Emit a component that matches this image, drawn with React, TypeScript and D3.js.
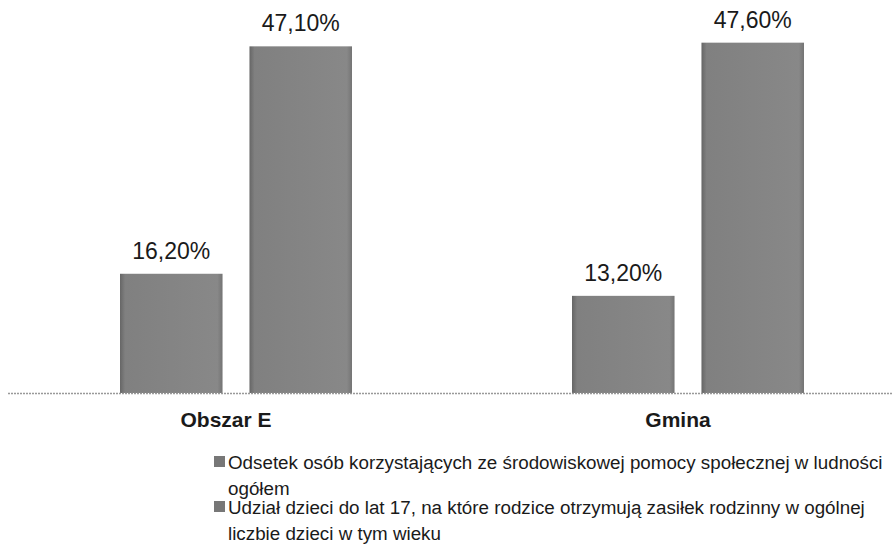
import React from "react";
import * as d3 from "d3";

const categories = ["Obszar E", "Gmina"];
const seriesNames = [
  "Odsetek osób korzystających ze środowiskowej pomocy społecznej w ludności ogółem",
  "Udział dzieci do lat 17, na które rodzice otrzymują zasiłek rodzinny w ogólnej liczbie dzieci w tym wieku",
];
const seriesA = [16.2, 13.2];
const seriesB = [47.1, 47.6];
const legendLines = [
  ["Odsetek osób korzystających ze środowiskowej pomocy społecznej w ludności", "ogółem"],
  ["Udział dzieci do lat 17, na które rodzice otrzymują zasiłek rodzinny w ogólnej", "liczbie dzieci w tym wieku"],
];

const W = 895;
const H = 558;
const baseY = 393;

export default function App() {
  const x0 = d3.scaleBand<string>().domain(categories).range([10, 914]).padding(0);
  const x1 = d3.scaleBand<number>().domain([0, 1]).range([-116, 116]).paddingInner(0.208);
  const y = d3.scaleLinear().domain([0, 50]).range([baseY, baseY - 368]);
  const series = [seriesA, seriesB];
  const fmt = (v: number) => v.toFixed(2).replace(".", ",") + "%";
  const font = "'Liberation Sans', Arial, sans-serif";
  const legendY = [469, 514];
  const lineH = 26;

  return (
    <svg width={W} height={H} style={{ position: "absolute", left: 0, top: 0, background: "#fff" }} fontFamily={font}>
      <defs>
        <linearGradient id="barGrad" x1="0" x2="1" y1="0" y2="0">
          <stop offset="0" stopColor="#666" />
          <stop offset="0.05" stopColor="#808080" />
          <stop offset="0.95" stopColor="#888" />
          <stop offset="1" stopColor="#747474" />
        </linearGradient>
      </defs>
      <rect x={0} y={0} width={W} height={H} fill="#fff" />
      {categories.map((c, ci) => {
        const cx = (x0(c) as number) + x0.bandwidth() / 2;
        return (
          <g key={c}>
            {series.map((s, si) => {
              const left = cx + (x1(si) as number);
              return (
                <g key={si}>
                  <rect
                    x={left}
                    y={y(s[ci])}
                    width={x1.bandwidth()}
                    height={baseY - y(s[ci])}
                    fill="url(#barGrad)"
                  />
                  <text
                    x={left + x1.bandwidth() / 2}
                    y={y(s[ci]) - 15}
                    textAnchor="middle"
                    fontSize={23}
                    fill="#1a1a1a"
                  >
                    {fmt(s[ci])}
                  </text>
                </g>
              );
            })}
            <text x={cx - 10} y={427} textAnchor="middle" fontSize={21} fontWeight="bold" fill="#1a1a1a">
              {c}
            </text>
          </g>
        );
      })}
      <line x1={8} x2={893} y1={baseY + 0.5} y2={baseY + 0.5} stroke="#999" strokeWidth={1.5} strokeDasharray="2,1" />
      {seriesNames.map((n, i) => (
        <g key={n}>
          <rect x={214} y={legendY[i] - 13} width={11} height={11} fill="#777" />
          {legendLines[i].map((t, li) => (
            <text key={li} x={228} y={legendY[i] + li * lineH} fontSize={18.8} fill="#1a1a1a">
              {t}
            </text>
          ))}
        </g>
      ))}
    </svg>
  );
}
